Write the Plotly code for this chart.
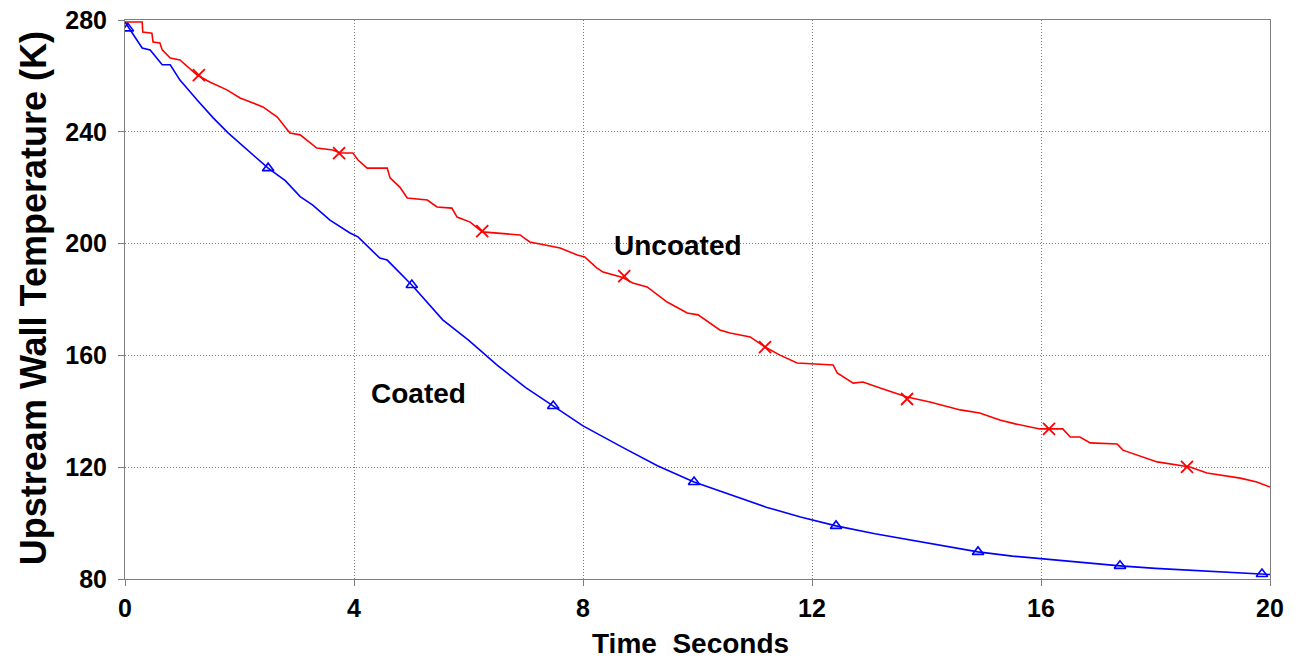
import plotly.graph_objects as go

# ---- data ----
uncoated_t = [0, 0.30, 0.31, 0.47, 0.49, 0.61, 0.65, 0.79, 0.96, 1.26, 1.48, 1.66, 1.78, 2.01,
              2.31, 2.41, 2.66, 2.88, 3.06, 3.35, 3.63, 3.76, 3.98, 4.07, 4.23, 4.58, 4.63, 4.80,
              4.93, 5.28, 5.45, 5.71, 5.80, 6.03, 6.24, 6.50, 6.90, 7.07, 7.37, 7.60, 7.90, 8.03,
              8.24, 8.35, 8.68, 8.87, 9.12, 9.47, 9.82, 10.01, 10.39, 10.57, 10.92, 11.18, 11.44,
              11.74, 12.37, 12.44, 12.72, 12.89, 13.19, 13.66, 14.06, 14.59, 14.93, 15.28, 15.55,
              15.98, 16.38, 16.51, 16.68, 16.86, 17.33, 17.43, 18.03, 18.60, 18.90, 19.48, 19.77, 20.0]
uncoated_T = [279.3, 279.3, 275.7, 275.3, 272.1, 271.8, 269.3, 266.4, 265.7, 260.3, 257.8, 256.0,
              255.0, 252.1, 249.6, 248.9, 245.3, 239.6, 238.9, 234.2, 233.5, 232.4, 232.4, 229.9,
              227.0, 227.0, 223.5, 220.2, 216.3, 215.6, 213.1, 212.7, 209.5, 207.7, 204.2, 203.8,
              203.1, 200.6, 199.5, 198.4, 195.9, 195.2, 191.3, 189.8, 188.0, 185.9, 184.5, 179.1,
              175.2, 174.5, 169.1, 168.0, 166.6, 163.0, 160.1, 157.3, 156.6, 153.7, 150.1, 150.5,
              148.3, 145.1, 143.3, 140.5, 139.4, 136.9, 135.5, 133.7, 133.7, 130.8, 130.8, 128.7,
              128.3, 126.1, 121.9, 120.1, 117.9, 116.1, 114.7, 112.9]
uncoated_mark_t = [1.29, 3.74, 6.24, 8.72, 11.18, 13.66, 16.14, 18.55]
uncoated_mark_T = [260.3, 232.4, 204.5, 188.4, 163.0, 144.4, 133.7, 120.1]

coated_t = [0, 0.30, 0.44, 0.65, 0.79, 0.96, 1.26, 1.54, 1.80, 2.13, 2.50, 2.80, 3.06, 3.28,
            3.58, 3.93, 4.07, 4.45, 4.58, 5.01, 5.55, 6.0, 6.5, 7.0, 7.48, 8.0, 8.7, 9.3, 9.94,
            10.6, 11.2, 11.8, 12.42, 13.1, 13.7, 14.3, 14.9, 15.5, 16.1, 16.7, 17.38, 18.0,
            18.6, 19.2, 19.86, 20.0]
coated_T = [279.3, 270.0, 269.3, 264.0, 264.0, 258.5, 251.4, 245.0, 239.6, 233.5, 227.0, 222.5,
            216.8, 213.8, 208.4, 203.8, 202.4, 194.8, 194.1, 185.2, 172.7, 165.5, 156.5, 148.5,
            141.9, 134.8, 127.0, 120.5, 114.7, 110.0, 105.7, 102.2, 99.0, 96.2, 94.0, 91.7, 89.7,
            88.2, 87.0, 85.8, 84.7, 83.8, 83.1, 82.4, 81.8, 81.6]
coated_mark_t = [0.05, 2.50, 5.01, 7.48, 9.94, 12.42, 14.90, 17.38, 19.86]
coated_mark_T = [277.0, 227.0, 185.2, 141.9, 114.7, 99.0, 89.7, 84.7, 81.8]

x_ticks = [0, 4, 8, 12, 16, 20]
y_ticks = [80, 120, 160, 200, 240, 280]

RED = "#ff0000"
BLUE = "#0000ff"
GRAY = "#7f7f7f"
FONT = "Arial, Liberation Sans, sans-serif"

fig = go.Figure()
fig.add_trace(go.Scatter(x=uncoated_t, y=uncoated_T, mode="lines",
                         line=dict(color=RED, width=1.6), hoverinfo="skip"))
fig.add_trace(go.Scatter(x=uncoated_mark_t, y=uncoated_mark_T, mode="markers",
                         marker=dict(symbol="x-thin-open", size=12, color=RED,
                                     line=dict(color=RED, width=1.8))))
fig.add_trace(go.Scatter(x=coated_t, y=coated_T, mode="lines",
                         line=dict(color=BLUE, width=1.6), hoverinfo="skip"))
fig.add_trace(go.Scatter(x=coated_mark_t, y=coated_mark_T, mode="markers",
                         marker=dict(symbol="triangle-up-open", size=10, color=BLUE,
                                     line=dict(color=BLUE, width=1.6))))

axis_common = dict(
    showline=True, linecolor=GRAY, linewidth=1, mirror=True,
    showgrid=True, gridcolor=GRAY, gridwidth=1, griddash="1px,2px",
    ticks="outside", ticklen=6, tickcolor=GRAY, tickwidth=1,
    tickfont=dict(family=FONT, size=25, color="black", weight="bold"),
    zeroline=False, automargin=False,
)
fig.update_xaxes(range=[0, 20], tickvals=x_ticks, ticklabelstandoff=1, **axis_common)
fig.update_yaxes(range=[80, 280], tickvals=y_ticks, ticklabelstandoff=6, **axis_common)

fig.add_annotation(x=9.66, y=199.5, xref="x", yref="y", text="<b>Uncoated</b>",
                   showarrow=False, font=dict(family=FONT, size=28, color="black"))
fig.add_annotation(x=5.12, y=146.5, xref="x", yref="y", text="<b>Coated</b>",
                   showarrow=False, font=dict(family=FONT, size=28, color="black"))
fig.add_annotation(x=9.87, y=-0.1145, xref="x", yref="paper", text="<b>Time\u00a0 Seconds</b>",
                   showarrow=False, xanchor="center", yanchor="middle",
                   font=dict(family=FONT, size=28, color="black"))
fig.add_annotation(x=-0.0803, y=180.5, xref="paper", yref="y",
                   text="<b>Upstream Wall Temperature (K)</b>", textangle=-90,
                   showarrow=False, xanchor="center", yanchor="middle",
                   font=dict(family=FONT, size=36, color="black"))

fig.update_layout(
    width=1300, height=658,
    margin=dict(l=125, r=30, t=20, b=79),
    paper_bgcolor="white", plot_bgcolor="white",
    showlegend=False,
)

fig.write_html("out.html")
